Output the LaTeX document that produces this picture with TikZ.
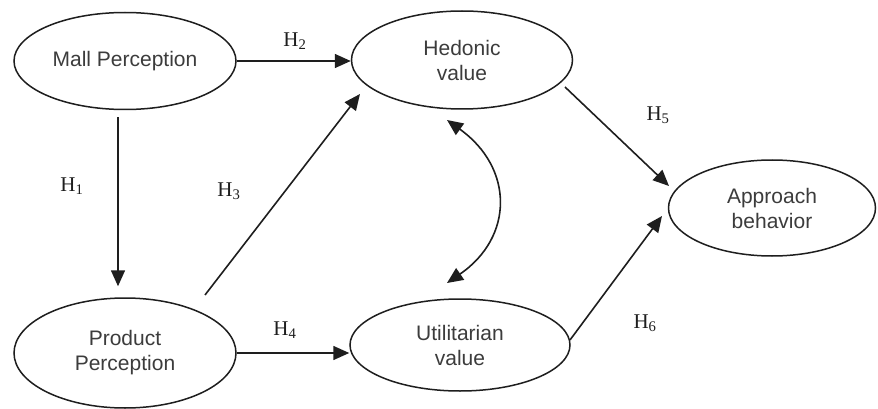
\documentclass[tikz,border=0pt]{standalone}
\usepackage{fontspec}
\setmainfont{Liberation Serif}
\newfontfamily\labfont{Liberation Sans}
\usetikzlibrary{shapes.geometric,arrows.meta,calc}
\definecolor{txtgray}{HTML}{3C3C3C}
\definecolor{linegray}{HTML}{1E1E1E}
\begin{document}
\begin{tikzpicture}[x=1pt,y=-1pt,
  latent/.style={ellipse,draw=linegray,line width=1.5pt,inner sep=0pt,align=center,
    text=txtgray,font=\labfont\fontsize{21}{25}\selectfont},
  arr/.style={draw=linegray,line width=1.6pt,-{Triangle[length=16pt,width=14pt]}},
  darr/.style={draw=linegray,line width=1.6pt,{Triangle[length=16pt,width=14pt]}-{Triangle[length=16pt,width=14pt]}},
  hyp/.style={text=linegray,font=\fontsize{21}{24}\selectfont,inner sep=0pt}]
\useasboundingbox[fill=white] (0,0) rectangle (878,409);
\node[latent,minimum width=222pt,minimum height=97pt] (mall) at (125,61) {Mall Perception};
\node[latent,minimum width=221pt,minimum height=98pt] (hed) at (462,60) {Hedonic\\value};
\node[latent,minimum width=222pt,minimum height=110pt] (prod) at (125,353) {Product\\Perception};
\node[latent,minimum width=220pt,minimum height=92pt] (util) at (460,345) {Utilitarian\\value};
\node[latent,minimum width=207pt,minimum height=96pt] (app) at (772,208) {Approach\\behavior};
% connectors
\draw[arr] (mall.east) -- (mall.east -| hed.west);
\draw[arr] ($(mall.south)+(-7,7)$) -- ($(prod.north)+(-7,-11)$);
\draw[arr] ($(prod.center)+(80,-58)$) -- ($(hed.center)+(-102,34)$);
\draw[arr] (prod.east) -- (prod.east -| util.west);
\draw[arr] ($(hed.center)+(103,27)$) -- ($(app.center)+(-103,-22)$);
\draw[arr] ($(util.center)+(110,-5)$) -- ($(app.center)+(-110,8)$);
\draw[darr] ($(hed.center)+(-15,60)$) .. controls ($(hed.center)+(52,108)$) and ($(util.center)+(54,-108)$) .. ($(util.center)+(-13,-62)$);
% labels
\node[hyp] (h2) at (295,41) {H\textsubscript{2}};
\node[hyp] (h1) at (72,186) {H\textsubscript{1}};
\node[hyp] (h3) at (229,191) {H\textsubscript{3}};
\node[hyp] (h4) at (285,330) {H\textsubscript{4}};
\node[hyp] (h5) at (658,115) {H\textsubscript{5}};
\node[hyp] (h6) at (645,323) {H\textsubscript{6}};
\end{tikzpicture}
\end{document}
